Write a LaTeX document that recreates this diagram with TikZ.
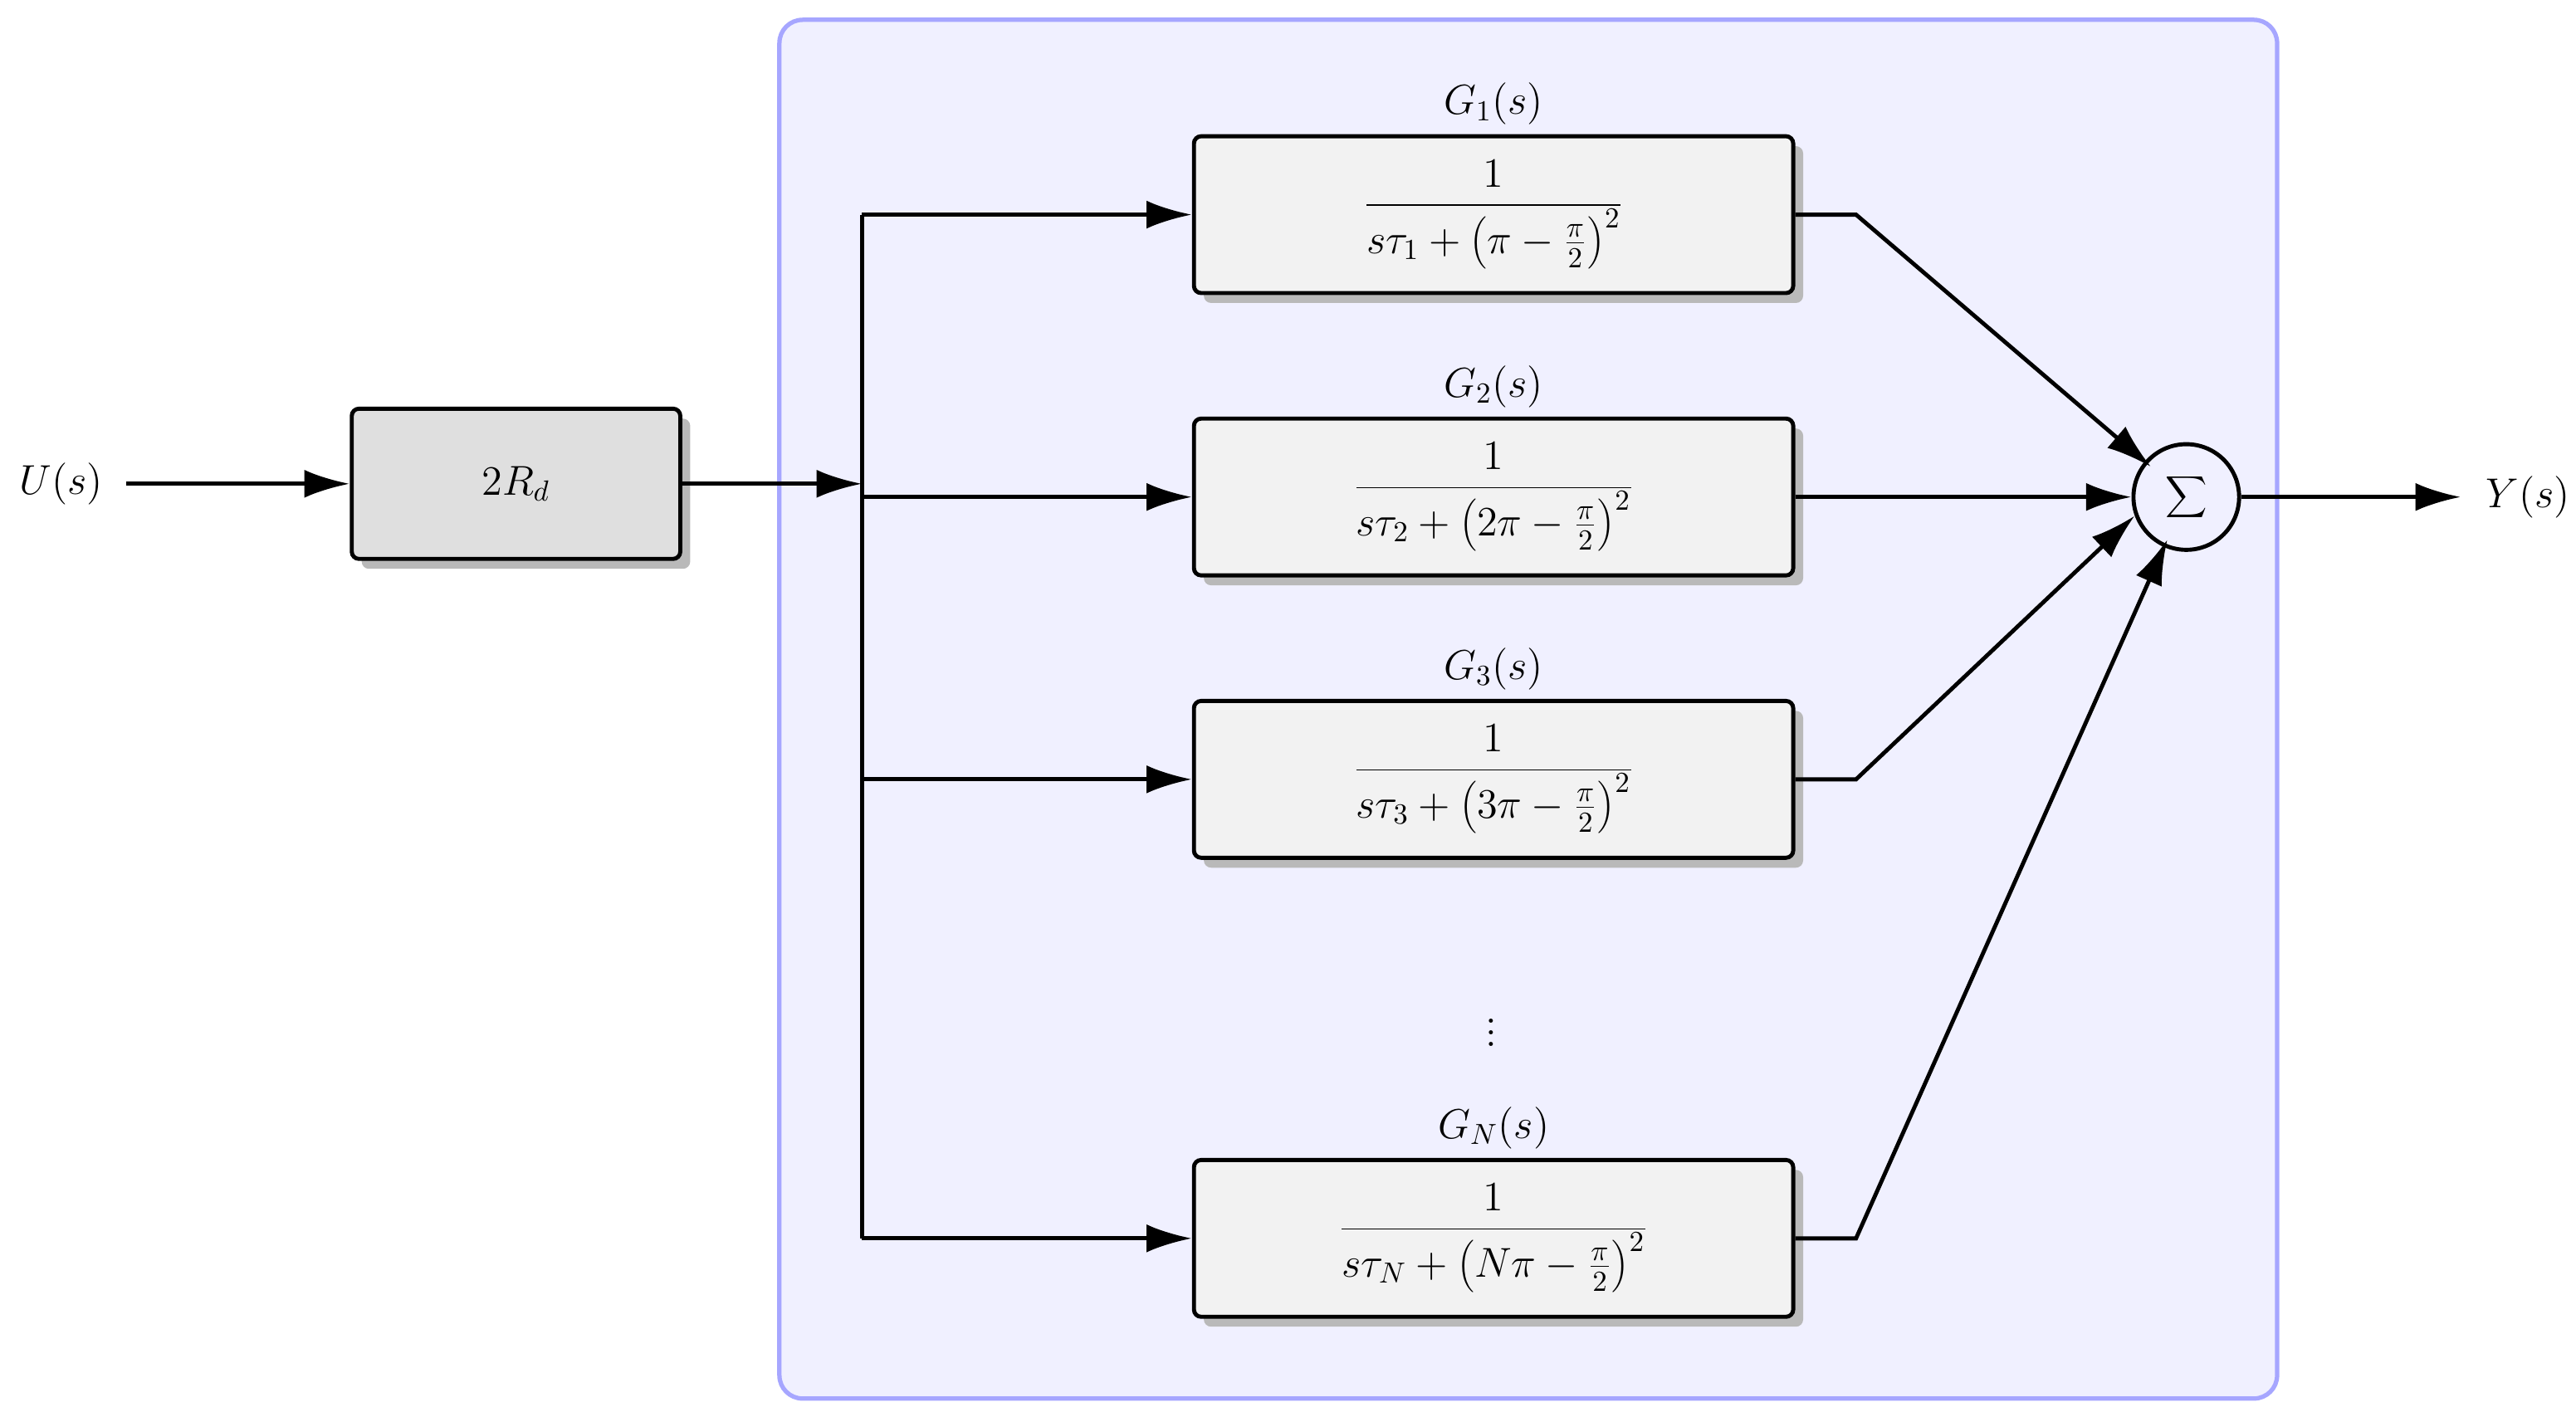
\documentclass[tikz,border=0pt]{standalone}
\usetikzlibrary{arrows.meta,shadows}
\begin{document}
\begin{tikzpicture}[x=0.02cm,y=-0.02cm,
  font=\fontsize{14.5}{17}\selectfont,
  ln/.style={line width=1.4pt},
  arr/.style={ln,-{Latex[length=0.55cm,width=0.34cm]}},
  blk/.style={draw,line width=1.4pt,rounded corners=2.5pt,minimum width=7.26cm,minimum height=1.9cm,fill=gray!10,
     drop shadow={shadow xshift=0.12cm,shadow yshift=-0.12cm,fill=gray!55,opacity=1}},
  lab/.style={inner sep=0pt}]
\useasboundingbox (0,0) rectangle (1560,858);
\draw[blue!35,fill=blue!6,line width=1.5pt,rounded corners=8pt] (472,12) rectangle (1379,847);
\node[lab] (u) at (37,293) {$U(s)$};
\node[blk,minimum width=3.98cm,minimum height=1.82cm,fill=gray!25] (rd) at (312.5,293) {$2R_d$};
\coordinate (j) at (522,293);
\coordinate (t) at (522,130);
\coordinate (b) at (522,750);
\node[blk] (g1) at (904.5,130) {$\displaystyle\frac{1}{s\tau_1+\left(\pi-\frac{\pi}{2}\right)^2}$};
\node[blk] (g2) at (904.5,301) {$\displaystyle\frac{1}{s\tau_2+\left(2\pi-\frac{\pi}{2}\right)^2}$};
\node[blk] (g3) at (904.5,472) {$\displaystyle\frac{1}{s\tau_3+\left(3\pi-\frac{\pi}{2}\right)^2}$};
\node[blk] (gn) at (904.5,750) {$\displaystyle\frac{1}{s\tau_N+\left(N\pi-\frac{\pi}{2}\right)^2}$};
\node[lab,above=3pt] at (g1.north) {$G_1(s)$};
\node[lab,above=3pt] at (g2.north) {$G_2(s)$};
\node[lab,above=3pt] at (g3.north) {$G_3(s)$};
\node[lab,above=3pt] at (gn.north) {$G_N(s)$};
\node[inner sep=0pt] (dots) at (903,620) {$\vdots$};
\node[draw,circle,line width=1.4pt,minimum size=1.28cm,inner sep=0pt] (s) at (1324,301) {$\displaystyle\sum$};
\node[lab] (y) at (1531,301) {$Y(s)$};
\draw[arr] (u.east)++(14,0) -- (rd.west);
\draw[arr] (rd.east) -- (j);
\draw[ln] (t) -- (b);
\draw[arr] (t) -- (g1.west);
\draw[arr] (t|-g2.west) -- (g2.west);
\draw[arr] (t|-g3.west) -- (g3.west);
\draw[arr] (b) -- (gn.west);
\coordinate (k1) at (1124,130);
\coordinate (k3) at (1124,472);
\coordinate (kn) at (1124,750);
\draw[arr,shorten >=16pt] (g1.east) -- (k1) -- (s.center);
\draw[arr] (g2.east) -- (s.west);
\draw[arr] (g3.east) -- (k3) -- (s.200);
\draw[arr,shorten >=16pt] (gn.east) -- (kn) -- (s.center);
\draw[arr] (s.east) -- ([xshift=-0.3cm]y.west);
\end{tikzpicture}
\end{document}
